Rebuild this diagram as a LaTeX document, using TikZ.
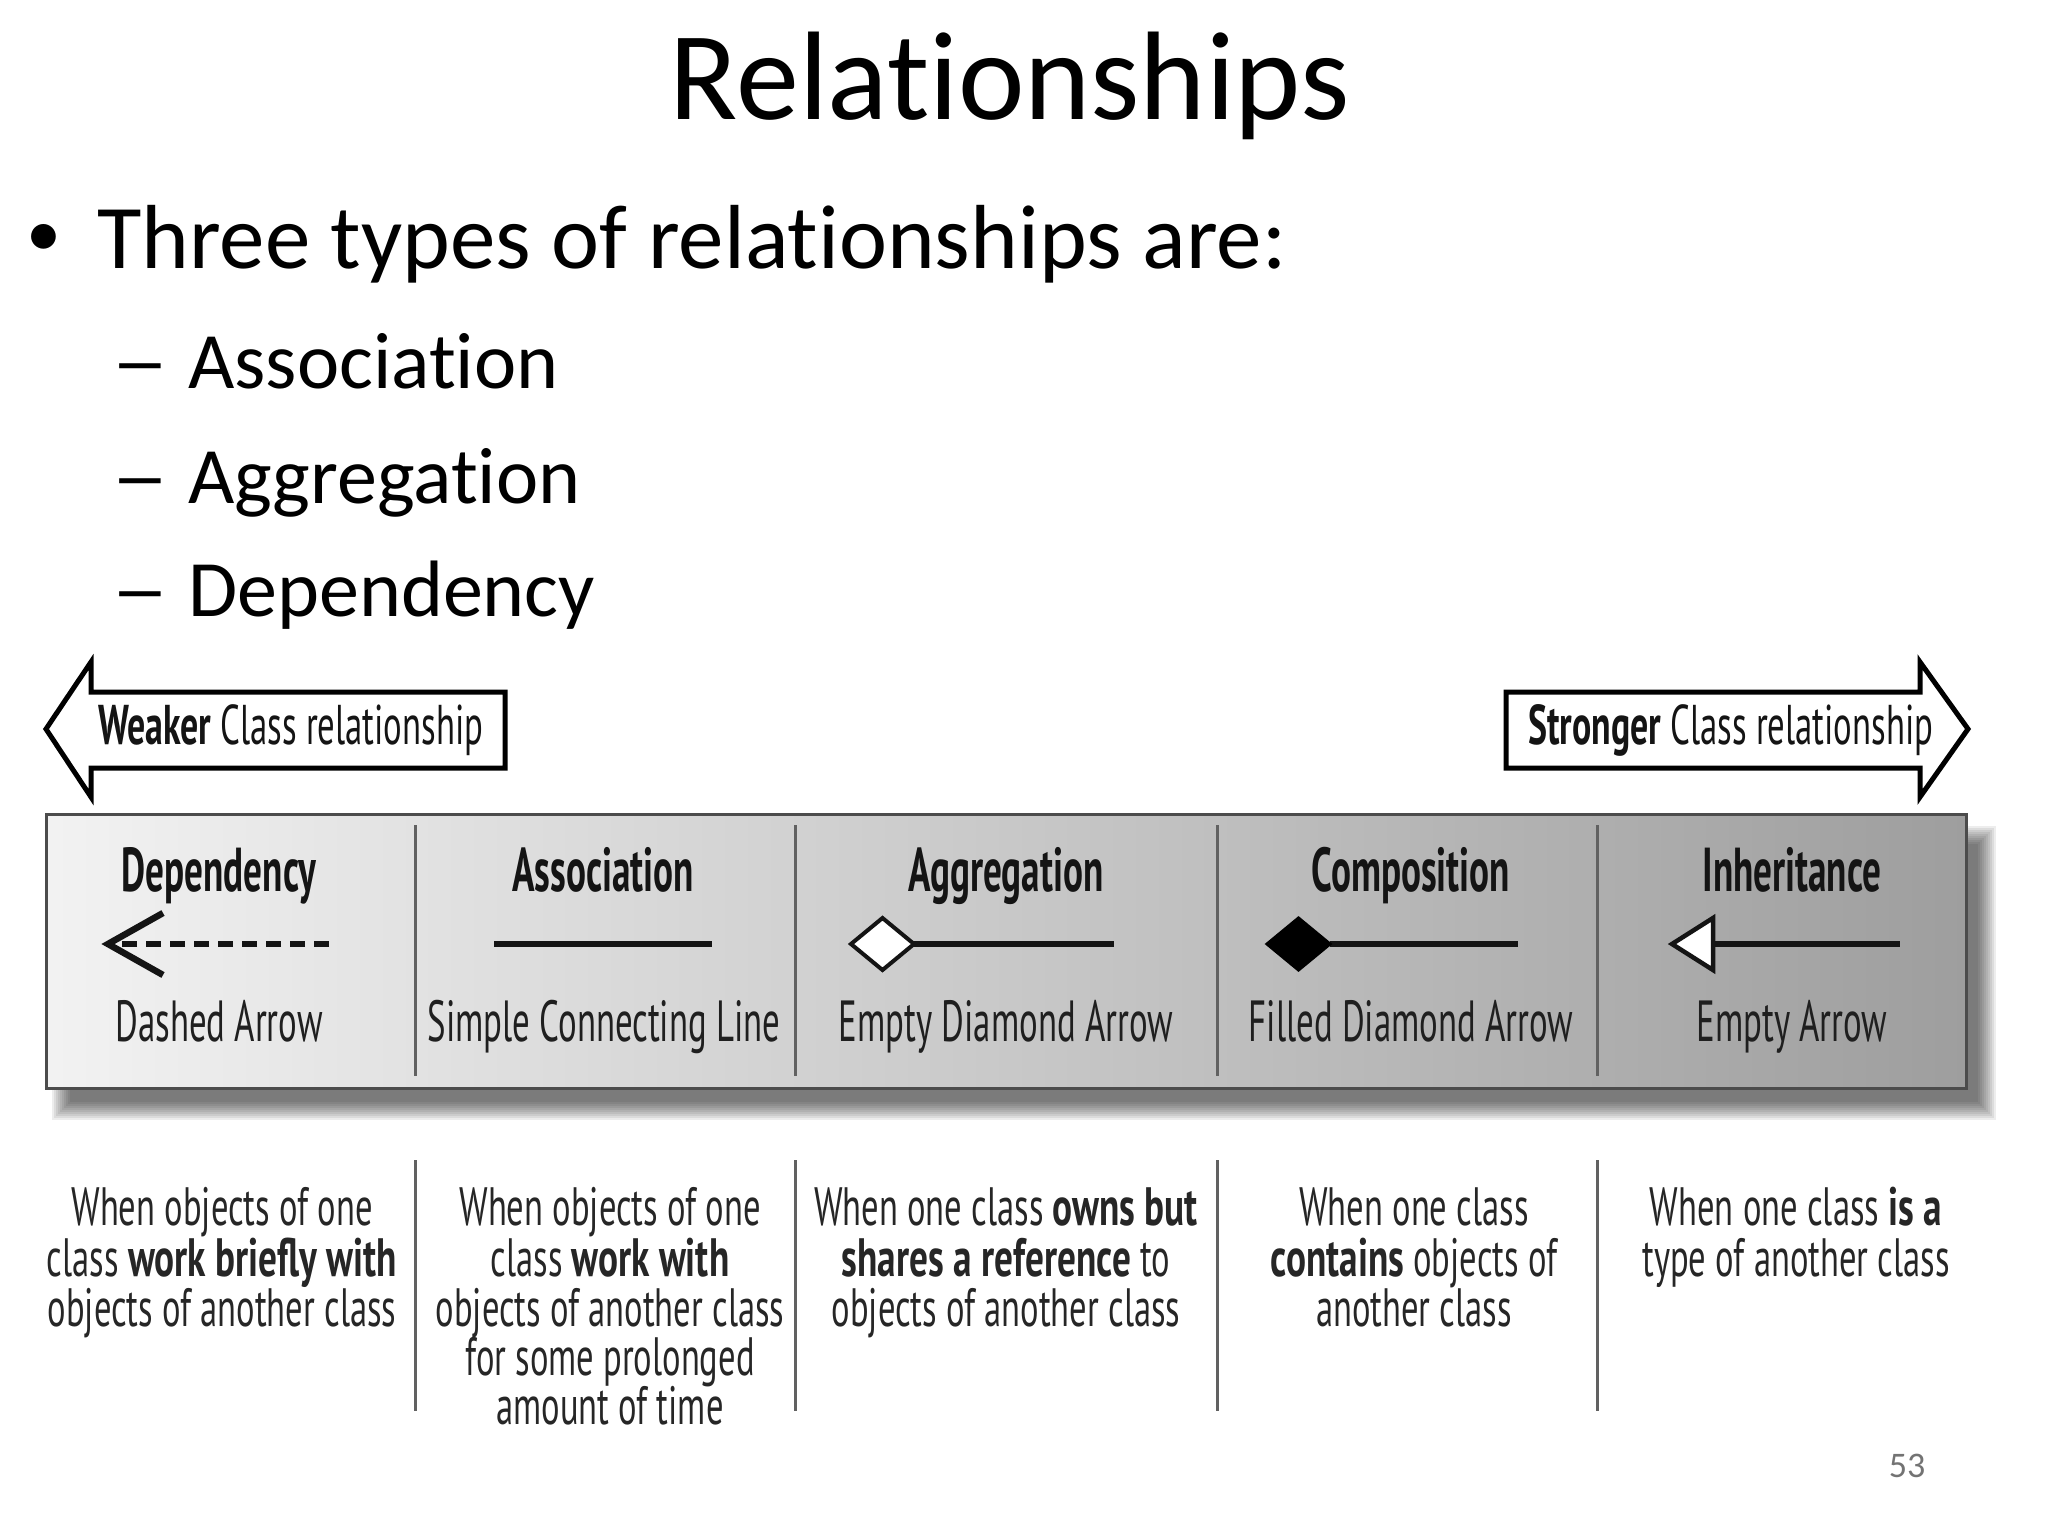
\documentclass[tikz,border=0pt]{standalone}
\usepackage{fontspec}
\setmainfont{Carlito}[Ligatures=NoCommon]
\newfontfamily\cond[FakeStretch=0.6]{PT Sans}
\newfontfamily\desfont[FakeStretch=0.64]{PT Sans}
\newfontfamily\desbold[FakeStretch=0.69]{PT Sans Bold}
\newfontfamily\arrfont[FakeStretch=0.62]{PT Sans}
\newfontfamily\arrbold[FakeStretch=0.64]{PT Sans Bold}
\begin{document}
\begin{tikzpicture}[x=1pt,y=-1pt,
  lab/.style={font=\cond\bfseries\fontsize{62}{64}\selectfont, text=black!92, anchor=base, inner sep=0},
  sub/.style={font=\cond\fontsize{58}{60}\selectfont, text=black!88, anchor=base, inner sep=0},
  desc/.style={font=\desfont\fontsize{54}{56}\selectfont, text=black!85, anchor=base, inner sep=0},
  big/.style={font=\arrfont\fontsize{56}{58}\selectfont, text=black!92, anchor=base west, inner sep=0},
  sym/.style={line width=6pt, black!92},
  divider/.style={line width=3pt, black!62},
  blockarrow/.style={line width=5pt, draw=black, fill=white, line join=miter},
  slide/.style={anchor=base west, inner sep=0},
]
\useasboundingbox (0,0) rectangle (2048,1536);

% ---- slide text ----
\node[anchor=base, inner sep=0, font=\fontsize{126}{130}\selectfont] (title) at (1010,120) {Relationships};
\node[slide, font=\fontsize{70}{72}\selectfont] (bul) at (26,256) {•};
\node[slide, font=\fontsize{91}{95}\selectfont] (b0) at (97,268) {Three types of relationships are:};
\node[slide, font=\fontsize{80}{84}\selectfont] (s1d) at (111,388) {\scalebox{1.45}[1]{–}};
\node[slide, font=\fontsize{80}{84}\selectfont] (s1) at (188,388) {Association};
\node[slide, font=\fontsize{80}{84}\selectfont] (s2d) at (111,503) {\scalebox{1.45}[1]{–}};
\node[slide, font=\fontsize{80}{84}\selectfont] (s2) at (188,503) {Aggregation};
\node[slide, font=\fontsize{80}{84}\selectfont] (s3d) at (111,616) {\scalebox{1.45}[1]{–}};
\node[slide, font=\fontsize{80}{84}\selectfont] (s3) at (188,616) {Dependency};
\node[anchor=base, inner sep=0, font=\fontsize{36}{38}\selectfont, text=black!55] (pg) at (1907,1477) {53};

% ---- block arrows ----
\draw[blockarrow] (46,729) -- (91,662) -- (91,692) -- (505,692) -- (505,768) -- (91,768) -- (91,797) -- cycle;
\node[big] (weak) at (98,744) {{\arrbold Weaker} Class relationship};
\draw[blockarrow] (1968,729) -- (1920,662) -- (1920,692) -- (1506,692) -- (1506,768) -- (1920,768) -- (1920,797) -- cycle;
\node[big] (strong) at (1528,744) {{\arrbold Stronger} Class relationship};

% ---- shadow of main box ----
\foreach \i in {0,...,9} {
  \fill[black, opacity=0.07] (52+2*\i,826+2*\i) rectangle (1996-2*\i,1120-2*\i);
}
% ---- main box ----
\draw[line width=3pt, draw=black!70, left color=black!5, right color=black!38] (46,814) rectangle (1966,1088);
\foreach \x in {415,795,1217,1597} {
  \draw[divider] (\x,825) -- (\x,1076);
  \draw[divider] (\x,1160) -- (\x,1411);
}

% labels
\node[lab] (l1) at (219,891) {Dependency};
\node[lab] (l2) at (603,891) {Association};
\node[lab] (l3) at (1006,891) {Aggregation};
\node[lab] (l4) at (1411,891) {Composition};
\node[lab] (l5) at (1792,891) {Inheritance};

\node[sub] (t1) at (219,1041) {Dashed Arrow};
\node[sub] (t2) at (604,1041) {Simple Connecting Line};
\node[sub] (t3) at (1006,1041) {Empty Diamond Arrow};
\node[sub] (t4) at (1411,1041) {Filled Diamond Arrow};
\node[sub] (t5) at (1792,1041) {Empty Arrow};

% symbols
\coordinate (dA) at (329,944); \coordinate (dB) at (120,944);
\draw[sym, dash pattern=on 15pt off 9pt] (dA) -- (dB);
\coordinate (dT) at (108,944);
\draw[sym, line width=6.5pt, line join=miter] (163,913) -- (dT) -- (163,975);

\coordinate (aA) at (494,944); \coordinate (aB) at (712,944);
\draw[sym] (aA) -- (aB);

\coordinate (gA) at (914,944); \coordinate (gB) at (1114,944);
\draw[sym] (gA) -- (gB);
\draw[line width=4pt, black!92, fill=white, line join=miter] (851,944) -- (882.5,918) -- (914,944) -- (882.5,970) -- cycle;

\coordinate (cA) at (1330,944); \coordinate (cB) at (1518,944);
\draw[sym] (cA) -- (cB);
\draw[line width=3pt, black, fill=black, line join=miter] (1267,944) -- (1298.5,918) -- (1330,944) -- (1298.5,970) -- cycle;

\coordinate (iA) at (1713,944); \coordinate (iB) at (1900,944);
\draw[sym] (iA) -- (iB);
\draw[line width=4.5pt, black!92, fill=white, line join=miter] (1672,944) -- (1713,918) -- (1713,970) -- cycle;

% descriptions
\node[desc] (d1a) at (222,1225) {When objects of one};
\node[desc] (d1b) at (222,1276) {class {\desbold work briefly with}};
\node[desc] (d1c) at (222,1326) {objects of another class};

\node[desc] (d2a) at (610,1225) {When objects of one};
\node[desc] (d2b) at (610,1276) {class {\desbold work with}};
\node[desc] (d2c) at (610,1326) {objects of another class};
\node[desc] (d2d) at (610,1375) {for some prolonged};
\node[desc] (d2e) at (610,1424) {amount of time};

\node[desc] (d3a) at (1006,1225) {When one class {\desbold owns but}};
\node[desc] (d3b) at (1006,1276) {{\desbold shares a reference} to};
\node[desc] (d3c) at (1006,1326) {objects of another class};

\node[desc] (d4a) at (1414,1225) {When one class};
\node[desc] (d4b) at (1414,1276) {{\desbold contains} objects of};
\node[desc] (d4c) at (1414,1326) {another class};

\node[desc] (d5a) at (1796,1225) {When one class {\desbold is a}};
\node[desc] (d5b) at (1796,1276) {type of another class};
\end{tikzpicture}
\end{document}
